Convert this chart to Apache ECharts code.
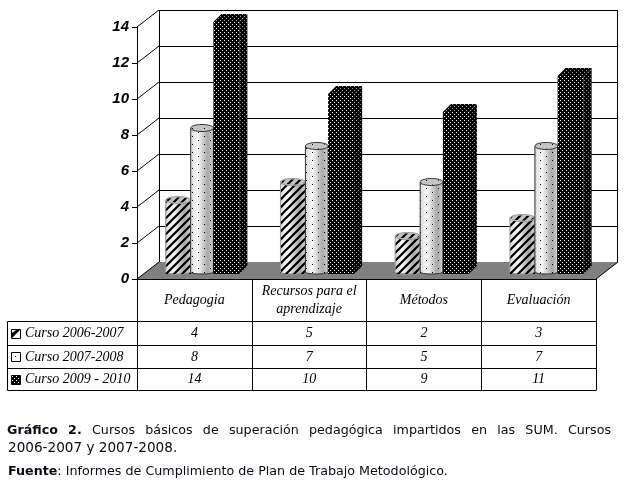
<!DOCTYPE html>
<html><head><meta charset="utf-8">
<style>html,body{margin:0;padding:0;background:#fff}#c{width:627px;height:486px}</style>
<script src="https://cdn.jsdelivr.net/npm/echarts@6/dist/echarts.min.js"></script>
</head><body><div id="c"></div>
<script>
const categories = ['Pedagogia', 'Recursos para el\naprendizaje', 'Métodos', 'Evaluación'];
const seriesNames = ['Curso 2006-2007', 'Curso 2007-2008', 'Curso 2009 - 2010'];
const curso0607 = [4, 5, 2, 3];
const curso0708 = [8, 7, 5, 7];
const curso0910 = [14, 10, 9, 11];
const yTicks = [0, 2, 4, 6, 8, 10, 12, 14];
const captionLine1 = 'Cursos básicos de superación pedagógica impartidos en las SUM. Cursos';
const captionLine2 = '2006-2007 y 2007-2008.';
const sourceText = 'Informes de Cumplimiento de Plan de Trabajo Metodológico.';

const G = {left: 137, top: 27, width: 459, height: 252};
const DX = 22, DY = -17, BASE = -5;
const SERIF = '"Liberation Serif","Times New Roman",serif';
const VERD = '"DejaVu Sans",Verdana,sans-serif';

function tile(w, h, bg, draw) {
  const c = document.createElement('canvas'); c.width = w; c.height = h;
  const x = c.getContext('2d');
  if (bg) { x.fillStyle = bg; x.fillRect(0, 0, w, h); }
  draw(x);
  return {image: c, repeat: 'repeat'};
}
function dots(w, h, pts, col, bg) {
  return tile(w, h, bg, x => { x.fillStyle = col; pts.forEach(p => x.fillRect(p[0], p[1], 1, 1)); });
}
const patStripe = tile(8, 8, null, x => {
  x.strokeStyle = '#000'; x.lineWidth = 2.2;
  [[-4, 4, 4, -4], [0, 8, 8, 0], [4, 12, 12, 4]].forEach(s => {
    x.beginPath(); x.moveTo(s[0], s[1]); x.lineTo(s[2], s[3]); x.stroke();
  });
});
const patSparse = dots(12, 8, [[0, 0], [6, 4]], '#000', null);
const patFront = dots(4, 4, [[0, 0], [2, 2]], '#fff', '#000');
const patSide = dots(4, 4, [[0, 0], [2, 2]], '#8a8a8a', '#000');
const patTop = dots(4, 4, [[0, 0], [2, 2]], '#a0a0a0', '#000');

function cylGrad() {
  return new echarts.graphic.LinearGradient(0, 0, 1, 0, [
    {offset: 0, color: '#d8d8d8'}, {offset: 0.3, color: '#fafafa'},
    {offset: 0.75, color: '#a8a8a8'}, {offset: 1, color: '#d0d0d0'}]);
}
function cylinder(pat, off, w, edge) {
  return function (params, api) {
    const p = api.coord([api.value(0), api.value(1)]);
    const x = p[0] + off, base = api.coord([api.value(0), 0])[1] + BASE, top = p[1] + BASE - 2;
    const rx = w / 2, ry = 3.5, cx = x + rx;
    const ln = (x1, y1, x2, y2) => ({type: 'line', shape: {x1, y1, x2, y2}, style: {stroke: edge, lineWidth: 1, fill: null}});
    return {type: 'group', children: [
      {type: 'ellipse', shape: {cx, cy: base - 2, rx, ry: 2}, style: {fill: cylGrad(), stroke: edge, lineWidth: 1}},
      {type: 'rect', shape: {x, y: top, width: w, height: base - 2 - top}, style: {fill: cylGrad()}},
      {type: 'rect', shape: {x, y: top, width: w, height: base - top}, style: {fill: pat}},
      ln(x, top, x, base - 2), ln(x + w, top, x + w, base - 2),
      {type: 'ellipse', shape: {cx, cy: top, rx, ry}, style: {fill: '#c4c4c4', stroke: edge, lineWidth: 1}},
      {type: 'ellipse', shape: {cx, cy: top, rx: rx - 1, ry: ry - 1}, style: {fill: pat}}
    ]};
  };
}
function prism(off, w, d) {
  return function (params, api) {
    const p = api.coord([api.value(0), api.value(1)]);
    const x = p[0] + off, base = api.coord([api.value(0), 0])[1] + BASE, top = p[1] + BASE;
    return {type: 'group', children: [
      {type: 'polygon', shape: {points: [[x + w, top], [x + w + d, top - d], [x + w + d, base - d], [x + w, base]]}, style: {fill: patSide}},
      {type: 'polygon', shape: {points: [[x, top], [x + d, top - d], [x + w + d, top - d], [x + w, top]]}, style: {fill: patTop}},
      {type: 'rect', shape: {x, y: top, width: w, height: base - top}, style: {fill: patFront}}
    ]};
  };
}
function walls(params, api) {
  const v = api.value(0);
  const y = api.coord([0, v])[1], x0 = G.left, x1 = G.left + G.width;
  const ln = (a, b, c, d) => ({type: 'line', shape: {x1: a, y1: b, x2: c, y2: d}, style: {stroke: '#000', lineWidth: 1}});
  const kids = [];
  if (v === 0) {
    kids.push({type: 'polygon', shape: {points: [[x0, y], [x0 + DX, y + DY], [x1 + DX, y + DY], [x1, y]]}, style: {fill: '#808080'}});
    kids.push(ln(x1, y, x1 + DX, y + DY));
    kids.push(ln(x0, y, x0 + DX, y + DY));
    kids.push(ln(x0 + DX + .5, y + DY, x0 + DX + .5, G.top + DY));
    kids.push(ln(x1 + DX - .5, y + DY, x1 + DX - .5, G.top + DY));
  } else {
    kids.push(ln(x0, y, x0 + DX, y + DY));
    kids.push(ln(x0 + DX, y + DY + .5, x1 + DX, y + DY + .5));
  }
  return {type: 'group', children: kids};
}

const graphics = [];
const tableRight = G.left + G.width;
[321.5, 345.5, 368.5, 390.5].forEach(y => graphics.push({type: 'line', shape: {x1: 7.5, y1: y, x2: tableRight + .5, y2: y}, style: {stroke: '#000', lineWidth: 1}}));
graphics.push({type: 'line', shape: {x1: 7.5, y1: 321.5, x2: 7.5, y2: 390.5}, style: {stroke: '#000', lineWidth: 1}});
const rowY = [333.5, 357, 379.5];
const rows = [curso0607, curso0708, curso0910];
const cellFont = 'italic 14px ' + SERIF;
rows.forEach((vals, r) => {
  graphics.push({type: 'text', x: 25, y: rowY[r], style: {text: seriesNames[r], font: cellFont, fill: '#000', textAlign: 'left', textVerticalAlign: 'middle'}});
  vals.forEach((v, i) => graphics.push({type: 'text', x: G.left + (i + .5) * G.width / 4, y: rowY[r], style: {text: String(v), font: cellFont, fill: '#000', textAlign: 'center', textVerticalAlign: 'middle'}}));
  const ky = Math.round(rowY[r]) - 5;
  graphics.push({type: 'rect', shape: {x: 11.5, y: ky + .5, width: 9, height: 9}, style: {fill: r === 2 ? patFront : '#fff', stroke: '#000', lineWidth: 1}});
  if (r === 0) graphics.push({type: 'polygon', shape: {points: [[12, ky + 9], [12, ky + 4], [16, ky + 1], [20, ky + 1]]}, style: {fill: '#000'}});
  if (r === 1) graphics.push({type: 'rect', shape: {x: 15, y: ky + 4, width: 1, height: 1}, style: {fill: '#000'}});
});

const meas = document.createElement('canvas').getContext('2d');
function width(t, f) { meas.font = f; return meas.measureText(t).width; }
const REG = '12.7px ' + VERD, BOLD = 'bold 12.7px ' + VERD, NUM = '13.6px ' + VERD;
const line1 = [['Gráfico', BOLD], ['2.', BOLD]].concat(captionLine1.split(' ').map(w => [w, REG]));
const total = line1.reduce((s, w) => s + width(w[0], w[1]), 0);
const gap = (611 - 7 - total) / (line1.length - 1);
let cx = 7;
function txt(t, x, y, f) { graphics.push({type: 'text', x, y, style: {text: t, font: f, fill: '#0a0a14', textAlign: 'left', textVerticalAlign: 'middle'}}); }
line1.forEach(w => { txt(w[0], cx, 431, w[1]); cx += width(w[0], w[1]) + gap; });
txt(captionLine2, 8, 448, NUM);
txt('Fuente', 8, 472, BOLD);
const fx = 8 + width('Fuente', BOLD);
txt(': ' + sourceText, fx, 472, REG);

const chart = echarts.init(document.getElementById('c'), null, {renderer: 'canvas'});
const custom = (name, data, ri, z) => ({type: 'custom', name, data: data.map((v, i) => [i, v]), renderItem: ri, z, clip: false, silent: true});
chart.setOption({
  animation: false,
  backgroundColor: '#fff',
  grid: {left: G.left, top: G.top, width: G.width, height: G.height, containLabel: false},
  xAxis: {
    type: 'category', data: categories,
    axisLine: {show: true, lineStyle: {color: '#000', width: 1}},
    axisTick: {show: true, length: 111, alignWithLabel: false, lineStyle: {color: '#000', width: 1}},
    axisLabel: {color: '#000', fontFamily: SERIF, fontStyle: 'italic', fontSize: 14, lineHeight: 18, margin: 21, verticalAlign: 'middle', interval: 0}
  },
  yAxis: {
    type: 'value', min: 0, max: 14, interval: 2,
    splitLine: {show: false},
    axisLine: {show: true, lineStyle: {color: '#000', width: 1}},
    axisTick: {show: true, length: 5, lineStyle: {color: '#000', width: 1}},
    axisLabel: {color: '#000', fontFamily: '"Liberation Sans",Arial,sans-serif', fontStyle: 'italic', fontWeight: 'bold', fontSize: 15, margin: 8}
  },
  series: [
    {type: 'custom', name: 'walls', data: yTicks.map(v => [v]), encode: {y: 0}, renderItem: walls, z: 1, clip: false, silent: true},
    custom(seriesNames[0], curso0607, cylinder(patStripe, -28.7, 25, '#9a9a9a'), 3),
    custom(seriesNames[1], curso0708, cylinder(patSparse, -3.7, 22.7, '#333'), 4),
    custom(seriesNames[2], curso0910, prism(19, 26, 8), 5)
  ],
  graphic: {elements: graphics}
});
</script></body></html>
